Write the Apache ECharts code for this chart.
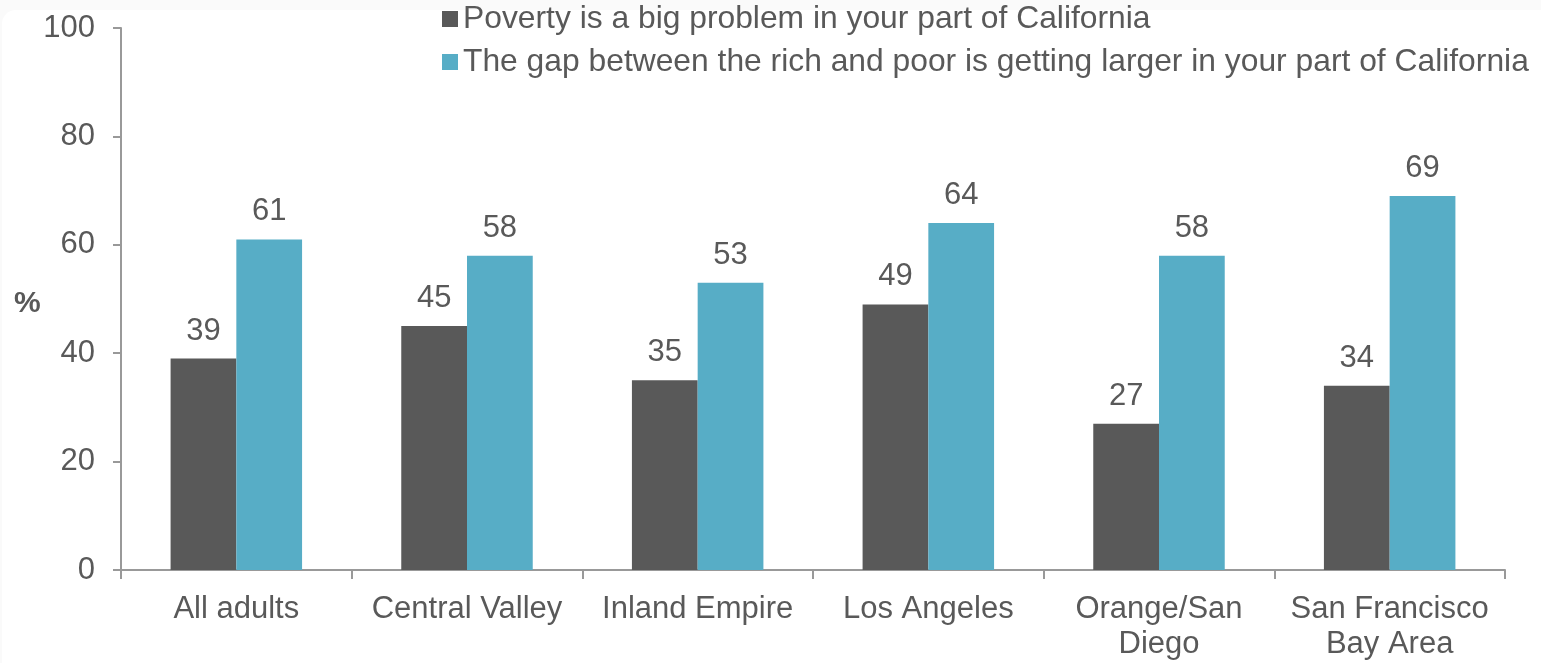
<!DOCTYPE html>
<html><head><meta charset="utf-8">
<style>
html,body{margin:0;padding:0;background:#fafafa;}
#bg{position:absolute;left:2px;top:10px;width:1539px;height:653px;background:#fff;border-top-left-radius:14px;}
#c{position:absolute;left:0;top:0;width:1541px;height:663px;}
</style>
<script src="https://cdn.jsdelivr.net/npm/echarts@6/dist/echarts.min.js"></script>
</head><body><div id="bg"></div><div id="c"></div>
<script>
const categories = ['All adults','Central Valley','Inland Empire','Los Angeles','Orange/San\nDiego','San Francisco\nBay Area'];
const povertyValues = [39,45,35,49,27,34];
const gapValues = [61,58,53,64,58,69];
const seriesNames = ['Poverty is a big problem in your part of California','The gap between the rich and poor is getting larger in your part of California'];
const yTicks = [0,20,40,60,80,100];

const FONT = 'Liberation Sans, Arial, sans-serif';
const TXT = '#595959';
const chart = echarts.init(document.getElementById('c'));
const lbl = {show:true, position:'top', distance:12, color:TXT, fontSize:31, fontFamily:FONT};
chart.setOption({
  animation:false,
  backgroundColor:'transparent',
  grid:{left:121, right:36, top:28, bottom:93, containLabel:false},
  legend:{orient:'vertical', left:437, top:-2, itemWidth:16, itemHeight:16, itemGap:11,
    icon:'rect', textStyle:{color:TXT, fontSize:31.8, fontFamily:FONT, padding:[0,0,0,0]}},
  graphic:[{type:'text', left:14, top:289, style:{text:'%', font:'bold 30px '+FONT, fill:TXT}}],
  xAxis:{type:'category', data:categories,
    axisLine:{lineStyle:{color:'#999', width:2}},
    axisTick:{show:true, length:9, lineStyle:{color:'#999', width:2}},
    axisLabel:{color:TXT, fontSize:31, fontFamily:FONT, margin:22, lineHeight:35, interval:0}},
  yAxis:{type:'value', min:yTicks[0], max:yTicks[yTicks.length-1], interval:20,
    axisLine:{show:true, lineStyle:{color:'#999', width:2}},
    axisTick:{show:true, length:8, lineStyle:{color:'#999', width:2}},
    splitLine:{show:false},
    axisLabel:{color:TXT, fontSize:31, fontFamily:FONT, margin:26}},
  series:[
    {name:seriesNames[0], type:'bar', data:povertyValues, barGap:'0%', barCategoryGap:'43%',
      itemStyle:{color:'#595959'}, label:lbl},
    {name:seriesNames[1], type:'bar', data:gapValues, barGap:'0%', barCategoryGap:'43%',
      itemStyle:{color:'#57ADC6'}, label:lbl}
  ]
});
</script></body></html>
